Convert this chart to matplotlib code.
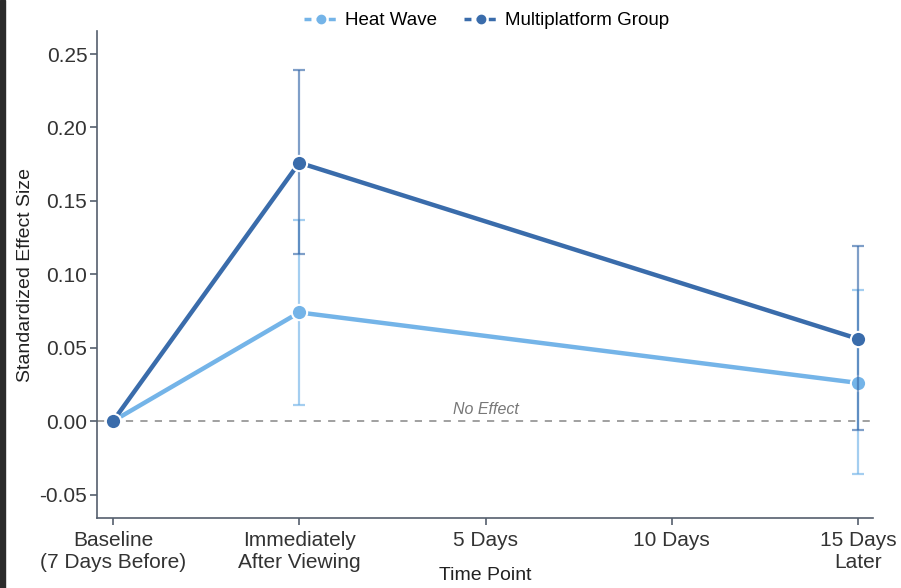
import numpy as np
import matplotlib
matplotlib.use("Agg")
import matplotlib.pyplot as plt
from matplotlib.patches import Rectangle

plt.rcParams['font.family'] = ['Liberation Sans', 'DejaVu Sans']

# time points (equally spaced on the axis)
time_labels = ['Baseline\n(7 Days Before)', 'Immediately\nAfter Viewing', '5 Days', '10 Days', '15 Days\nLater']
tick_pos = [0, 1, 2, 3, 4]

# measured points: baseline, immediately after, 15 days later
x_obs = [0, 1, 4]
heat_wave = [0.0, 0.074, 0.026]
heat_wave_lo = [0.0, 0.011, -0.036]
heat_wave_hi = [0.0, 0.137, 0.089]
multi = [0.0, 0.176, 0.056]
multi_lo = [0.0, 0.114, -0.006]
multi_hi = [0.0, 0.239, 0.119]

c_heat = '#74b4e8'
c_multi = '#3a6cab'

fig = plt.figure(figsize=(9.01, 5.88), dpi=100)
ax = fig.add_axes([97/901, 1 - 518/588, (873 - 97)/901, (518 - 31)/588])

# dark border strip on the left edge of the screenshot
fig.patches.append(Rectangle((0, 0), 5/901, 1, transform=fig.transFigure,
                             color='#2b2b2b', zorder=0))

ax.axhline(0, color='#999999', linestyle=(0, (4, 4)), linewidth=1.3, zorder=1)
ax.text(2, 0.003, 'No Effect', style='italic', color='#777777', fontsize=11.5,
        ha='center', va='bottom')


def draw(y, lo, hi, color, label, z):
    y = np.array(y)
    err = [y - np.array(lo), np.array(hi) - y]
    ax.errorbar(x_obs[1:], y[1:], yerr=[err[0][1:], err[1][1:]], fmt='none',
                ecolor=color, alpha=0.65, elinewidth=1.6, capsize=4,
                capthick=1.6, zorder=z)
    ax.plot(x_obs, y, color=color, linewidth=3.2, zorder=z + 1)
    ax.plot(x_obs, y, linestyle='none', marker='o', markersize=11,
            markerfacecolor=color, markeredgecolor='white',
            markeredgewidth=1.5, zorder=z + 2)
    return ax.plot([], [], color=color, linestyle=(0, (2, 1.5)), linewidth=2.5,
                   marker='o', markersize=6, label=label)[0]


h1 = draw(heat_wave, heat_wave_lo, heat_wave_hi, c_heat, 'Heat Wave', 2)
h2 = draw(multi, multi_lo, multi_hi, c_multi, 'Multiplatform Group', 5)

ax.set_xlim(-0.086, 4.08)
ax.set_ylim(-0.066, 0.2657)
ax.set_xticks(tick_pos)
ax.set_xticklabels(time_labels)
ax.set_yticks([-0.05, 0, 0.05, 0.10, 0.15, 0.20, 0.25])
ax.set_yticklabels(['-0.05', '0.00', '0.05', '0.10', '0.15', '0.20', '0.25'])

for side in ['top', 'right']:
    ax.spines[side].set_visible(False)
for side in ['left', 'bottom']:
    ax.spines[side].set_color('#555f6d')
    ax.spines[side].set_linewidth(1.2)

ax.tick_params(axis='both', colors='#555f6d', length=5, width=1.2,
               labelsize=15, labelcolor='#333333')
ax.tick_params(axis='y', pad=2)
ax.tick_params(axis='x', pad=4)
ax.set_ylabel('Standardized Effect Size', fontsize=14, color='#222222', labelpad=4)
ax.set_xlabel('Time Point', fontsize=14, color='#222222', labelpad=-3)

fig.legend(handles=[h1, h2], loc='upper center', bbox_to_anchor=(0.54, 1.008),
           ncol=2, frameon=False, fontsize=13.5, handlelength=1.8,
           columnspacing=1.45, handletextpad=0.4)

fig.savefig('out.png', dpi=100)
